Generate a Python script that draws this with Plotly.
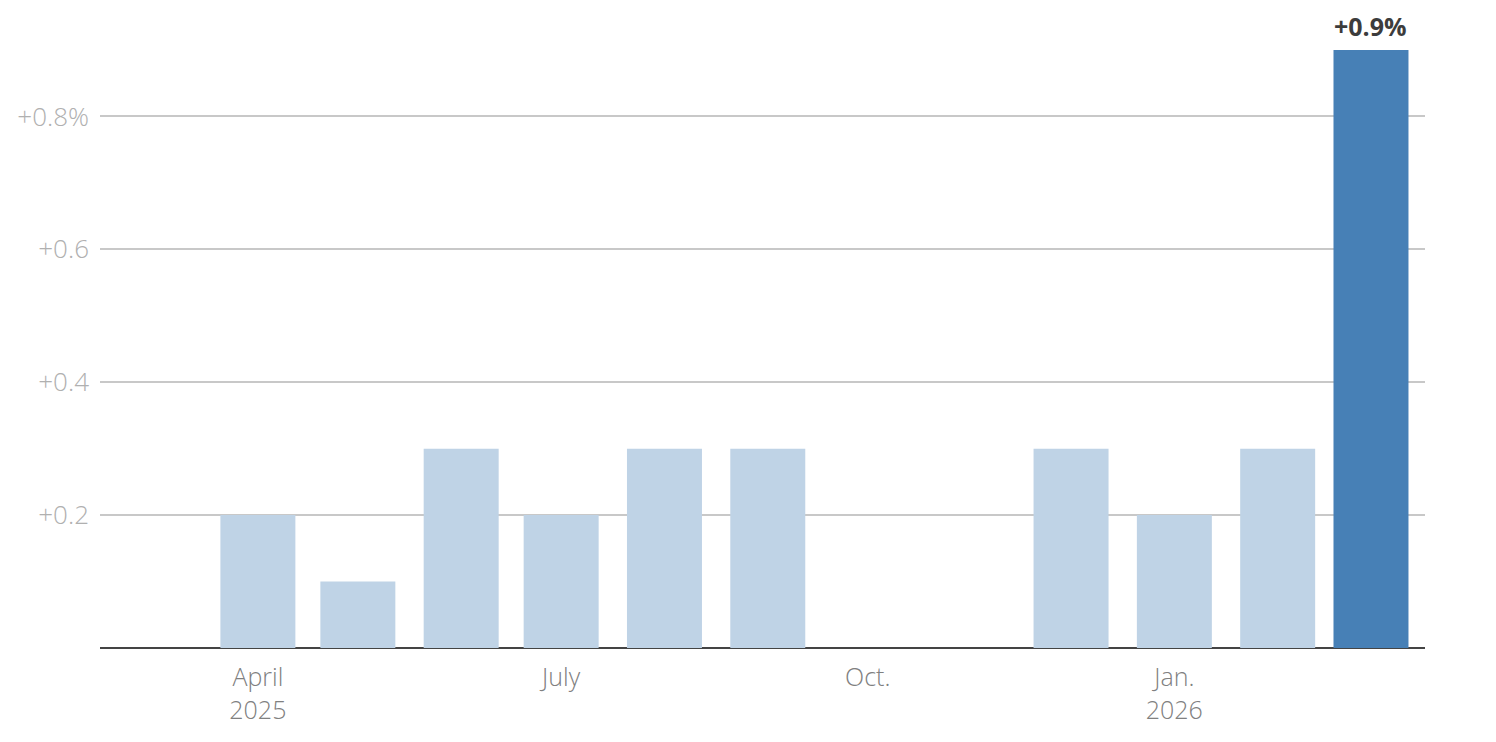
import plotly.graph_objects as go

months = ["2025-04-01", "2025-05-01", "2025-06-01", "2025-07-01", "2025-08-01", "2025-09-01",
          "2025-10-01", "2025-11-01", "2025-12-01", "2026-01-01", "2026-02-01", "2026-03-01"]
values = [0.2, 0.1, 0.3, 0.2, 0.3, 0.3, None, None, 0.3, 0.2, 0.3, 0.9]
colors = ["#bfd3e6"] * 11 + ["#4780b6"]

tick_dates = ["2025-04-01", "2025-07-01", "2025-10-01", "2026-01-01"]
tick_text = ["April<br>2025", "July", "Oct.", "Jan.<br>2026"]
y_ticks = [0.2, 0.4, 0.6, 0.8]
y_text = ["+0.2", "+0.4", "+0.6", "+0.8%"]

day_ms = 86400000
fig = go.Figure(go.Bar(
    x=months, y=values, marker=dict(color=colors, line=dict(width=0)),
    width=[22.5 * day_ms] * len(months), hoverinfo="skip",
))

fig.add_annotation(x=months[-1], y=values[-1], text="<b>+0.9%</b>", showarrow=False,
                   yanchor="bottom", yshift=5, font=dict(size=25, color="#3c3c3c", family="Open Sans"))

fig.update_layout(
    width=1480, height=726,
    margin=dict(l=92, r=63, t=42, b=86),
    paper_bgcolor="white", plot_bgcolor="white",
    font=dict(family="Open Sans", size=26, color="#888888", weight=300),
    showlegend=False,
    xaxis=dict(type="date", range=["2025-02-12 15:00", "2026-03-17 05:00"],
               tickvals=tick_dates, ticktext=tick_text, showgrid=False, zeroline=False,
               showline=False, ticks="", tickfont=dict(color="#808080", size=25, weight=300),
               ticklabelstandoff=12, automargin=False),
    yaxis=dict(range=[0, 0.9], tickvals=y_ticks, ticktext=y_text, showgrid=True,
               gridcolor="#c8c8c8", gridwidth=1.5, zeroline=True, zerolinecolor="#444444",
               zerolinewidth=2, showline=False, ticks="", tickfont=dict(color="#b0b0b0", size=26, weight=300),
               ticklabelstandoff=10, automargin=False),
)

fig.write_html("out.html")
